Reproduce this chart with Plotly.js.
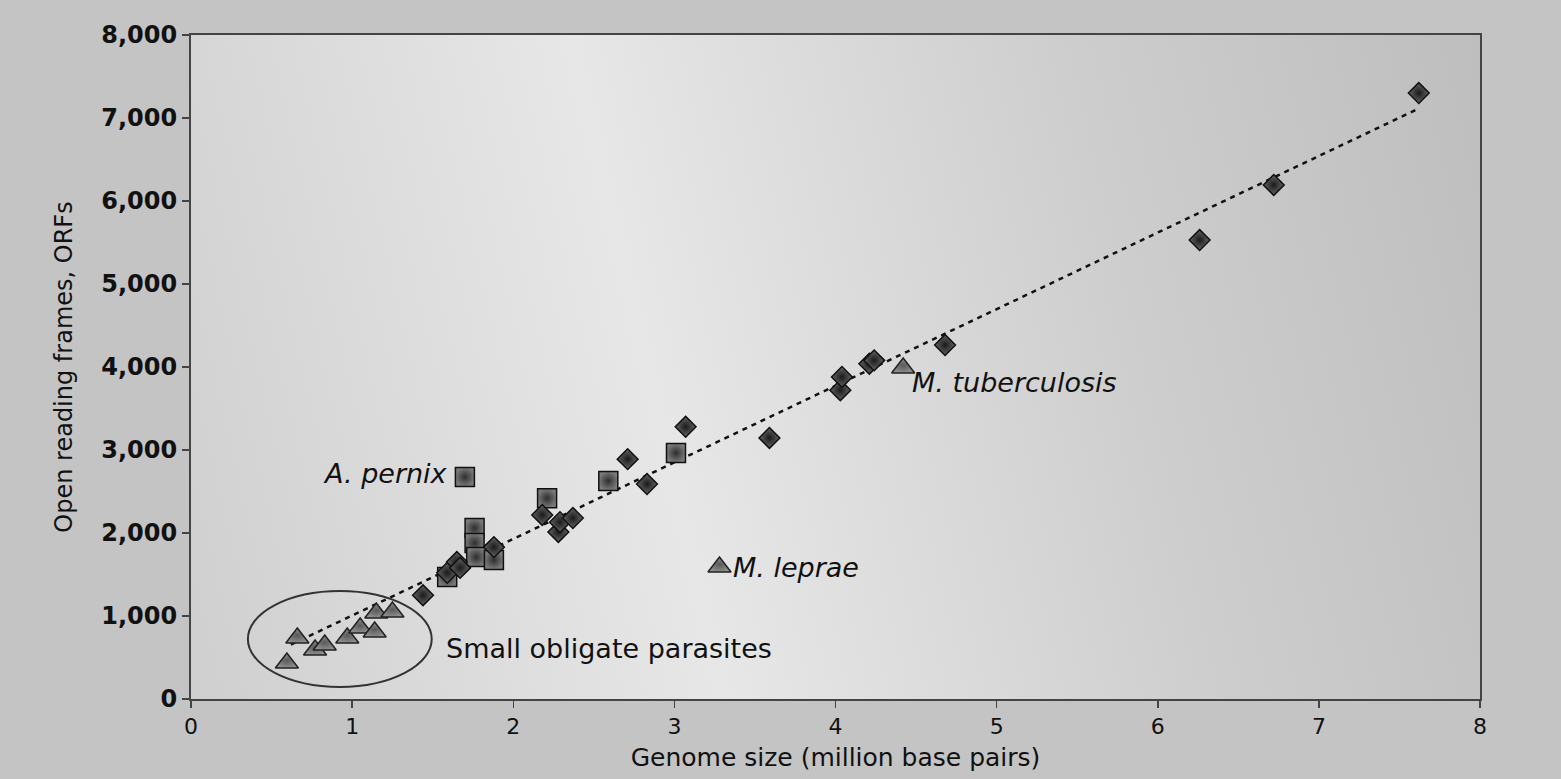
<!DOCTYPE html>
<html>
<head>
<meta charset="utf-8">
<script src="https://cdn.plot.ly/plotly-3.0.1.min.js"></script>
<style>
  html, body { margin: 0; padding: 0; background: #c4c4c4; }
  #chart { width: 1561px; height: 779px; }
</style>
</head>
<body>
<div id="chart"></div>
<script>
// ---- Data (genome size in Mbp, ORF count) ----
// Free-living bacteria (diamonds)
const bacteriaX = [1.44, 1.59, 1.65, 1.67, 1.88, 2.18, 2.28, 2.29, 2.37, 2.71, 2.83, 3.07, 3.59, 4.03, 4.04, 4.21, 4.24, 4.68, 6.26, 6.72, 7.62];
const bacteriaY = [1250, 1520, 1650, 1580, 1830, 2217, 2012, 2130, 2180, 2890, 2590, 3280, 3145, 3720, 3880, 4040, 4080, 4265, 5530, 6193, 7301];
// Archaea (squares)
const archaeaX = [1.59, 1.70, 1.76, 1.76, 1.77, 1.88, 2.21, 2.59, 3.01];
const archaeaY = [1470, 2675, 2060, 1880, 1710, 1675, 2420, 2627, 2964];
// Parasites (triangles)
const parasiteX = [0.595, 0.66, 0.77, 0.83, 0.97, 1.05, 1.14, 1.15, 1.25, 3.28, 4.42];
const parasiteY = [434, 735, 590, 650, 735, 855, 807, 1036, 1048, 1590, 3988];
// Trend line end points
const trendX = [0.62, 7.60];
const trendY = [655, 7096];
// Ellipse around the small obligate parasites
const ellipseX = [0.353, 1.494];
const ellipseY = [145, 1301];
// Labels
const labelText = ['<i>A. pernix</i>', '<i>M. tuberculosis</i>', '<i>M. leprae</i>', 'Small obligate parasites'];
const labelX = [1.61, 4.465, 3.35, 1.57];
const labelY = [2711, 3819, 1590, 614];
const labelAnchor = ['right', 'left', 'left', 'left'];
// Axis ticks
const xTickVals = [0, 1, 2, 3, 4, 5, 6, 7, 8];
const xTickText = ['0', '1', '2', '3', '4', '5', '6', '7', '8'];
const yTickVals = [0, 1000, 2000, 3000, 4000, 5000, 6000, 7000, 8000];
const yTickText = ['0', '1,000', '2,000', '3,000', '4,000', '5,000', '6,000', '7,000', '8,000'];

// ---- Background gradient for the plot area (drawn on a canvas) ----
function makeGradient(W, H) {
  const c = document.createElement('canvas');
  c.width = W; c.height = H;
  const g = c.getContext('2d');
  const grad = g.createLinearGradient(-147, 34, 1222, -285);
  grad.addColorStop(0, '#cfcfcf');
  grad.addColorStop(0.37, '#e7e7e7');
  grad.addColorStop(0.72, '#cdcdcd');
  grad.addColorStop(1, '#bebebe');
  g.fillStyle = grad;
  g.fillRect(0, 0, W, H);
  return c.toDataURL('image/png');
}

const tickFont = { family: 'DejaVu Sans', size: 24, color: '#111', weight: 'bold' };
const xTickFont = { family: 'DejaVu Sans', size: 22, color: '#111' };
const annFont = { family: 'DejaVu Sans', size: 27, color: '#111' };

const traces = [
  {
    x: trendX, y: trendY, mode: 'lines', type: 'scatter', hoverinfo: 'skip',
    line: { color: '#111', width: 2.5, dash: '5px,5px' }, showlegend: false
  },
  {
    x: archaeaX, y: archaeaY, mode: 'markers', type: 'scatter', showlegend: false,
    marker: { symbol: 'square', size: 19, color: '#7a7a7a',
      gradient: { type: 'radial', color: '#2e2e2e' },
      line: { color: '#111', width: 1.5 } }
  },
  {
    x: bacteriaX, y: bacteriaY, mode: 'markers', type: 'scatter', showlegend: false,
    marker: { symbol: 'diamond', size: 16, color: '#666',
      gradient: { type: 'radial', color: '#1a1a1a' },
      line: { color: '#111', width: 1.5 } }
  },
  {
    x: parasiteX, y: parasiteY, mode: 'markers', type: 'scatter', showlegend: false,
    marker: { symbol: 'triangle-up', size: 20, color: '#8e8e8e',
      gradient: { type: 'radial', color: '#5a5a5a' },
      line: { color: '#222', width: 1.5 } }
  }
];

const annotations = labelText.map((t, i) => ({
  x: labelX[i], y: labelY[i], xref: 'x', yref: 'y', text: t, showarrow: false,
  xanchor: labelAnchor[i], yanchor: 'middle', font: annFont
}));

const layout = {
  width: 1561, height: 779,
  margin: { l: 191, r: 81, t: 35, b: 80, pad: 0 },
  paper_bgcolor: '#c4c4c4',
  plot_bgcolor: 'rgba(0,0,0,0)',
  showlegend: false,
  xaxis: {
    range: [0, 8], tickvals: xTickVals, ticktext: xTickText,
    showgrid: false, zeroline: false, showline: true, mirror: true,
    linecolor: '#444', linewidth: 2, ticks: 'outside', ticklen: 7, tickcolor: '#444', tickwidth: 1.5,
    tickfont: xTickFont,
    title: { text: 'Genome size (million base pairs)', standoff: 10,
      font: { family: 'DejaVu Sans', size: 25, color: '#111' } }
  },
  yaxis: {
    range: [0, 8000], tickvals: yTickVals, ticktext: yTickText,
    showgrid: false, zeroline: false, showline: true, mirror: true,
    linecolor: '#444', linewidth: 2, ticks: 'outside', ticklen: 7, tickcolor: '#444', tickwidth: 1.5,
    tickfont: tickFont,
    title: { text: 'Open reading frames, ORFs', standoff: 22,
      font: { family: 'DejaVu Sans', size: 24, color: '#111' } }
  },
  shapes: [{
    type: 'circle', xref: 'x', yref: 'y',
    x0: ellipseX[0], x1: ellipseX[1], y0: ellipseY[0], y1: ellipseY[1],
    line: { color: '#333', width: 2 }, layer: 'above'
  }],
  images: [{
    source: makeGradient(1289, 664), xref: 'paper', yref: 'paper',
    x: 0, y: 1, sizex: 1, sizey: 1, xanchor: 'left', yanchor: 'top',
    sizing: 'stretch', layer: 'below'
  }],
  annotations: annotations
};

Plotly.newPlot('chart', traces, layout, { displayModeBar: false, staticPlot: true });
</script>
</body>
</html>
